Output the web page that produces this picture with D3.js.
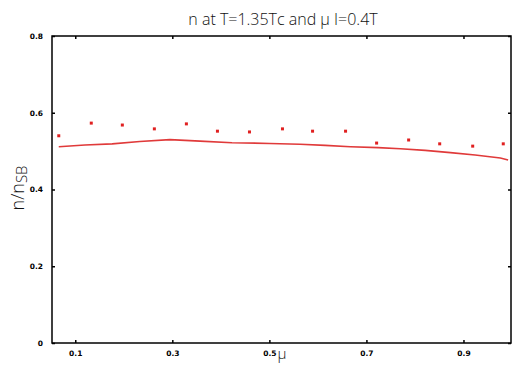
<!DOCTYPE html>
<html>
<head>
<meta charset="utf-8">
<script src="https://cdn.jsdelivr.net/npm/d3@7"></script>
<style>
  body { margin: 0; background: #fff; }
  svg { display: block; }
</style>
</head>
<body>
<div id="chart"></div>
<script>
// lattice points (mu/T vs n/n_SB)
var pointX = [0.066, 0.133, 0.197, 0.263, 0.329, 0.393, 0.459, 0.527, 0.589, 0.657, 0.721, 0.787, 0.851, 0.919, 0.982];
var pointY = [0.540, 0.573, 0.568, 0.558, 0.571, 0.552, 0.550, 0.558, 0.552, 0.552, 0.521, 0.529, 0.519, 0.513, 0.519];

// model curve
var curveX = [0.066, 0.120, 0.176, 0.233, 0.295, 0.357, 0.423, 0.501, 0.563, 0.615, 0.667, 0.724, 0.770, 0.821, 0.873, 0.924, 0.976, 0.992];
var curveY = [0.5115, 0.516, 0.519, 0.525, 0.530, 0.526, 0.522, 0.520, 0.518, 0.515, 0.5115, 0.509, 0.506, 0.502, 0.496, 0.490, 0.482, 0.477];

var xTicks = [0.1, 0.3, 0.5, 0.7, 0.9];
var yTicks = [0, 0.2, 0.4, 0.6, 0.8];

var W = 512, H = 367;
var mLeft = 52, mRight = 511, mTop = 36, mBottom = 343;

var svg = d3.select('#chart').append('svg')
  .attr('width', W).attr('height', H);

var x = d3.scaleLinear().domain([0.05, 1.0]).range([mLeft - 1, 512]);
var y = d3.scaleLinear().domain([0, 0.8]).range([mBottom, mTop]);

// title
svg.append('text')
  .attr('x', 283).attr('y', 25)
  .attr('text-anchor', 'middle')
  .style('font-family', 'Open Sans, DejaVu Sans, sans-serif')
  .style('font-size', '16px')
  .style('font-weight', '300')
  .attr('fill', '#111')
  .text('n at T=1.35Tc and \u03bc I=0.4T');

// frame
svg.append('rect')
  .attr('x', mLeft).attr('y', mTop)
  .attr('width', mRight - mLeft).attr('height', mBottom - mTop)
  .attr('fill', 'none').attr('stroke', '#000').attr('stroke-width', 1.5);

// axes with inward ticks
var tickFont = function (g) {
  g.select('.domain').remove();
  g.selectAll('text')
    .style('font-family', 'DejaVu Sans, sans-serif')
    .style('font-size', '7.5px')
    .style('font-weight', 'bold')
    .attr('fill', '#000');
  g.selectAll('line').attr('stroke', '#000').attr('stroke-width', 1.5);
};

svg.append('g')
  .attr('transform', 'translate(0,' + mBottom + ')')
  .call(d3.axisBottom(x).tickValues(xTicks).tickSizeInner(-3).tickSizeOuter(0).tickPadding(8).tickFormat(d3.format('.1f')))
  .call(tickFont);

svg.append('g')
  .attr('transform', 'translate(0,' + mTop + ')')
  .call(d3.axisTop(x).tickValues(xTicks).tickSizeInner(-3).tickSizeOuter(0).tickFormat(''))
  .call(tickFont);

svg.append('g')
  .attr('transform', 'translate(' + mLeft + ',0)')
  .call(d3.axisLeft(y).tickValues(yTicks).tickSizeInner(-3).tickSizeOuter(0).tickPadding(9)
    .tickFormat(function (d) { return d === 0 ? '0' : d3.format('.1f')(d); }))
  .call(tickFont);

svg.append('g')
  .attr('transform', 'translate(' + mRight + ',0)')
  .call(d3.axisRight(y).tickValues(yTicks).tickSizeInner(-3).tickSizeOuter(0).tickFormat(''))
  .call(tickFont);

// axis labels
svg.append('text')
  .attr('transform', 'translate(24,188) rotate(-90)')
  .attr('text-anchor', 'middle')
  .style('font-family', 'Open Sans, DejaVu Sans, sans-serif')
  .style('font-size', '18px')
  .style('font-weight', '300')
  .attr('fill', '#111')
  .html('n/n<tspan dy="3" font-size="15">SB</tspan>');

svg.append('text')
  .attr('x', 282).attr('y', 359)
  .attr('text-anchor', 'middle')
  .style('font-family', 'Open Sans, DejaVu Sans, sans-serif')
  .style('font-size', '15px')
  .style('font-weight', '300')
  .attr('fill', '#111')
  .text('\u03bc');

// curve
var curve = curveX.map(function (d, i) { return [d, curveY[i]]; });
svg.append('path')
  .datum(curve)
  .attr('fill', 'none')
  .attr('stroke', '#e03a3a')
  .attr('stroke-width', 1.6)
  .attr('d', d3.line().x(function (d) { return x(d[0]); }).y(function (d) { return y(d[1]); }));

// points
var pts = pointX.map(function (d, i) { return [d, pointY[i]]; });
svg.selectAll('rect.pt')
  .data(pts)
  .enter()
  .append('rect')
  .attr('class', 'pt')
  .attr('x', function (d) { return x(d[0]) - 1.5; })
  .attr('y', function (d) { return y(d[1]) - 1.5; })
  .attr('width', 3).attr('height', 3)
  .attr('fill', '#e02020');
</script>
</body>
</html>
